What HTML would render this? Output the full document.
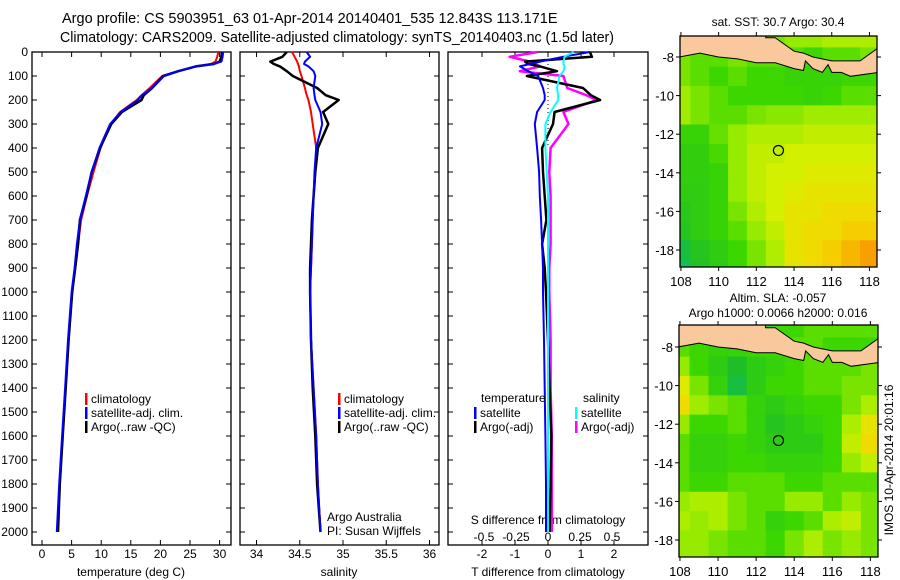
<!DOCTYPE html>
<html><head><meta charset="utf-8"><style>
html,body{margin:0;padding:0;background:#fff;width:900px;height:580px;overflow:hidden}
svg{font-family:"Liberation Sans",sans-serif;display:block}
</style></head><body>
<svg id="c" width="900" height="580" xmlns="http://www.w3.org/2000/svg">
<text x="62" y="23" font-size="14.5">Argo profile: CS 5903951_63 01-Apr-2014 20140401_535 12.843S 113.171E</text>
<text x="60" y="42" font-size="14.5" textLength="554" lengthAdjust="spacingAndGlyphs">Climatology: CARS2009. Satellite-adjusted climatology: synTS_20140403.nc (1.5d later)</text>
</svg>
<script>
// ---- profile data ----
const depths=[0,20,40,50,60,80,100,150,180,200,250,300,400,500,600,700,800,900,1000,1200,1400,1600,1800,2000];
const tempArgo=[30.4,30.3,30.0,29,26,23,20.5,18.6,17.2,16.8,13.5,11.7,9.8,8.4,7.5,6.4,6.1,5.6,5.1,4.5,4.0,3.5,3.0,2.7];
const tempClim=[29.8,29.6,29.3,28.5,26,23,20.3,18.2,16.8,16.0,13.2,11.6,9.9,8.7,7.6,6.6,6.1,5.6,5.1,4.5,4.0,3.5,3.0,2.6];
const tempSat=[30.6,30.5,30.3,29,26,23,20.6,18.6,16.9,16.2,13.3,11.5,9.7,8.4,7.4,6.4,5.9,5.5,5.0,4.4,3.9,3.4,2.9,2.5];
const salArgo=[34.35,34.3,34.16,34.2,34.27,34.35,34.42,34.7,34.8,34.95,34.77,34.83,34.71,34.68,34.66,34.64,34.63,34.62,34.62,34.63,34.65,34.68,34.7,34.74];
const salClim=[34.41,34.44,34.47,34.48,34.49,34.5,34.52,34.56,34.58,34.6,34.63,34.65,34.69,34.68,34.66,34.65,34.64,34.63,34.62,34.63,34.66,34.69,34.71,34.74];
const salSat=[34.58,34.62,34.56,34.55,34.6,34.66,34.68,34.66,34.67,34.68,34.74,34.76,34.69,34.67,34.66,34.65,34.64,34.63,34.62,34.63,34.66,34.69,34.71,34.74];
const dTArgo=[1.27,1.33,-0.7,-0.6,-0.24,0.27,-0.64,1.06,1.3,1.58,0.2,0.15,-0.18,-0.15,-0.1,-0.05,-0.18,-0.1,-0.06,0,0.05,0.1,0.08,0.05];
const dTSat=[1.27,0.45,-0.24,-0.55,-0.85,-0.6,-0.3,-0.15,-0.1,-0.1,-0.33,-0.4,-0.33,-0.27,-0.25,-0.21,-0.18,-0.15,-0.15,-0.12,-0.1,-0.08,-0.06,-0.06];
const dSArgo=[-0.08,-0.3,-0.14,-0.1,-0.06,-0.22,0.12,0.15,0.3,0.38,0.12,0.16,0.02,0.01,0.02,0.02,0.02,0.01,0.01,0.02,0.02,0.03,0.03,0.03];
const dSSat=[0.2,0.13,0.12,0.12,0.13,0.12,0.09,0.07,0.08,0.08,0.02,-0.02,-0.02,-0.01,0,0,0,0,0,0,0,0,0,0];
const depthTicks=[0,100,200,300,400,500,600,700,800,900,1000,1100,1200,1300,1400,1500,1600,1700,1800,1900,2000];
const tempTicks=[0,5,10,15,20,25,30];
const salTicks=[34,34.5,35,35.5,36];
const dTTicks=[-2,-1,0,1,2];
const dSTicks=[-0.5,-0.25,0,0.25,0.5];
const dSTickLabels=["-0.5","-0.25","0","0.25","0.5"];
// ---- map data (rows lat -7..-19, cols lon 108..118), normalised 0..1 ----
const mapLats=[-7,-8,-9,-10,-11,-12,-13,-14,-15,-16,-17,-18,-19];
const mapLons=[108,109,110,111,112,113,114,115,116,117,118];
const sstGrid=[
[0.55,0.55,0.55,0.55,0.55,0.55,0.6,0.6,0.65,0.65,0.65],
[0.55,0.5,0.5,0.55,0.5,0.5,0.5,0.45,0.5,0.5,0.55],
[0.55,0.5,0.45,0.5,0.45,0.45,0.42,0.42,0.42,0.45,0.45],
[0.62,0.55,0.5,0.45,0.45,0.45,0.45,0.42,0.45,0.5,0.5],
[0.62,0.55,0.5,0.5,0.55,0.58,0.58,0.62,0.62,0.62,0.62],
[0.42,0.42,0.52,0.6,0.66,0.66,0.66,0.7,0.7,0.7,0.7],
[0.38,0.38,0.47,0.6,0.7,0.7,0.74,0.74,0.74,0.74,0.74],
[0.38,0.38,0.42,0.6,0.7,0.74,0.74,0.78,0.78,0.78,0.78],
[0.36,0.36,0.42,0.6,0.7,0.74,0.78,0.82,0.82,0.82,0.82],
[0.32,0.36,0.42,0.55,0.66,0.74,0.82,0.82,0.86,0.86,0.86],
[0.3,0.36,0.42,0.5,0.6,0.7,0.82,0.86,0.86,0.9,0.9],
[0.2,0.3,0.36,0.45,0.55,0.66,0.82,0.86,0.9,0.95,1.0],
[0.15,0.28,0.35,0.45,0.55,0.66,0.82,0.86,0.9,0.95,1.0]];
const slaGrid=[
[0.45,0.45,0.45,0.45,0.45,0.45,0.45,0.5,0.5,0.5,0.5],
[0.5,0.45,0.4,0.4,0.45,0.45,0.5,0.5,0.45,0.45,0.45],
[0.6,0.45,0.35,0.25,0.35,0.4,0.45,0.5,0.5,0.5,0.55],
[0.78,0.55,0.4,0.2,0.35,0.45,0.45,0.5,0.5,0.55,0.55],
[0.86,0.62,0.55,0.5,0.4,0.35,0.4,0.45,0.45,0.55,0.65],
[0.6,0.45,0.45,0.5,0.4,0.3,0.35,0.4,0.45,0.65,0.82],
[0.5,0.4,0.4,0.45,0.4,0.35,0.35,0.35,0.45,0.7,0.86],
[0.5,0.4,0.4,0.45,0.45,0.4,0.4,0.4,0.45,0.6,0.7],
[0.5,0.45,0.45,0.5,0.5,0.5,0.45,0.45,0.5,0.5,0.5],
[0.6,0.65,0.65,0.55,0.5,0.5,0.6,0.6,0.5,0.6,0.55],
[0.65,0.6,0.65,0.55,0.5,0.4,0.45,0.5,0.65,0.7,0.55],
[0.6,0.6,0.55,0.5,0.5,0.45,0.55,0.65,0.55,0.6,0.55],
[0.6,0.6,0.55,0.5,0.5,0.45,0.55,0.65,0.55,0.6,0.55]];
const landLon=[107.9,107.9,109,110,111,112,113,114,114.5,114.6,115,115.5,115.8,116,116.5,117,118.5,118.5,117.5,116,115,114.5,114,113,112.5,112.5];
const landLat=[-6.8,-8.0,-7.8,-8.0,-8.1,-8.3,-8.3,-8.6,-8.7,-8.2,-8.6,-8.8,-8.4,-8.8,-8.8,-9.0,-8.8,-7.5,-8.2,-8.2,-8.0,-7.8,-7.7,-7.0,-7.0,-6.8];
const argoLon=113.171, argoLat=-12.843;

const NS="http://www.w3.org/2000/svg";
const svg=document.getElementById('c');
function mk(tag,attrs,parent){const e=document.createElementNS(NS,tag);for(const k in attrs)e.setAttribute(k,attrs[k]);(parent||svg).appendChild(e);return e;}
function txt(x,y,s,size,anchor,parent){const t=mk('text',{x:x,y:y,'font-size':size||12,'text-anchor':anchor||'start'},parent);t.textContent=s;return t;}

const TOP=52,BOT=545;
const yD=d=>TOP+d*0.24;
const panels=[{x0:32,x1:231},{x0:240,x1:439},{x0:448,x1:648}];
const xT=v=>42+v*5.92;
const xS=v=>256.5+(v-34)*86.5;
const xDT=v=>548+v*33;
const xDS=v=>548+v*128;

function frame(p,name){
  const r=mk('rect',{x:p.x0,y:TOP,width:p.x1-p.x0,height:BOT-TOP,fill:'none',stroke:'#000','stroke-width':1.3});
  
  
  depthTicks.forEach(d=>{
    mk('line',{x1:p.x0,x2:p.x0+5,y1:yD(d),y2:yD(d),stroke:'#000'});
    mk('line',{x1:p.x1-5,x2:p.x1,y1:yD(d),y2:yD(d),stroke:'#000'});
  });
}
frame(panels[0],'temperature-panel');
frame(panels[1],'salinity-panel');
frame(panels[2],'difference-panel');
depthTicks.forEach(d=>{
  const t=txt(28,yD(d)+4,String(d),12,'end');
  
  
});
function xticks(ticks,fx,labels,y,name){
  ticks.forEach((v,i)=>{
    const x=fx(v);
    mk('line',{x1:x,x2:x,y1:BOT-5,y2:BOT,stroke:'#000'});
    mk('line',{x1:x,x2:x,y1:TOP,y2:TOP+5,stroke:'#000'});
    const t=txt(x,y,labels?labels[i]:String(v),12,'middle');
    
    
  });
}
xticks(tempTicks,xT,null,558,'temperature-tick-label');
xticks(salTicks,xS,null,558,'salinity-tick-label');
xticks(dTTicks,xDT,null,558,'t-diff-tick-label');
dSTicks.forEach((v,i)=>{
  const t=txt(xDS(v),541,dSTickLabels[i],12,'middle');
  
  
});
let t;
t=txt(131,576,'temperature (deg C)',12,'middle');
t=txt(339,576,'salinity',12,'middle');
t=txt(548,576,'T difference from climatology',12,'middle');
t=txt(548,524,'S difference from climatology',12,'middle');

mk('line',{x1:548,x2:548,y1:TOP,y2:yD(400),stroke:'#000','stroke-dasharray':'1,3'});

function line(vals,fx,color,w,name){
  const pts=vals.map((v,i)=>fx(v).toFixed(1)+','+yD(depths[i]).toFixed(1)).join(' ');
  const p=mk('polyline',{points:pts,fill:'none',stroke:color,'stroke-width':w,'stroke-linejoin':'round'});
  
  
}
line(tempClim,xT,'#ff0000',2,'temperature-climatology-line');
line(tempArgo,xT,'#000',2.5,'temperature-argo-line');
line(tempSat,xT,'#0000ff',2,'temperature-satellite-line');
line(salClim,xS,'#ff0000',2,'salinity-climatology-line');
line(salArgo,xS,'#000',2.5,'salinity-argo-line');
line(salSat,xS,'#0000ff',2,'salinity-satellite-line');
line(dSArgo,xDS,'#ff00ff',2.5,'s-diff-argo-line');
line(dTArgo,xDT,'#000',2.5,'t-diff-argo-line');
line(dTSat,xDT,'#0000ff',2,'t-diff-satellite-line');
line(dSSat,xDS,'#00ffff',2,'s-diff-satellite-line');

function legend(x,y,color,label,name){
  mk('rect',{x:x,y:y-10,width:2.5,height:12,fill:color});
  const t=txt(x+6,y,label,12);
  
  
}
[[85,'temperature-legend'],[338,'salinity-legend']].forEach(([x,n])=>{
  legend(x,403,'#ff0000','climatology',n+'-climatology');
  legend(x,417,'#0000ff','satellite-adj. clim.',n+'-satellite');
  legend(x,431,'#000','Argo(..raw -QC)',n+'-argo');
});
t=txt(481,402,'temperature',12);
t=txt(583,402,'salinity',12);
legend(474,417,'#0000ff','satellite','legend-t-satellite');
legend(474,431,'#000','Argo(-adj)','legend-t-argo');
legend(575,417,'#00ffff','satellite','legend-s-satellite');
legend(575,431,'#ff00ff','Argo(-adj)','legend-s-argo');
t=txt(327,521,'Argo Australia',12);
t=txt(327,535,'PI: Susan Wijffels',12);

// ---- maps ----
function cmap(v){
  const stops=[[0,[0,190,160]],[0.25,[30,190,40]],[0.45,[60,215,0]],[0.6,[150,235,0]],[0.75,[215,240,0]],[0.88,[245,215,0]],[1,[248,160,0]]];
  for(let i=1;i<stops.length;i++){if(v<=stops[i][0]){const a=stops[i-1],b=stops[i],f=(v-a[0])/(b[0]-a[0]);return 'rgb('+a[1].map((c,j)=>Math.round(c+f*(b[1][j]-c))).join(',')+')';}}
  return 'rgb(248,160,0)';
}
function drawMap(box,grid,name,titles){
  const lonX=lon=>box.x0+(lon-107.95)*(box.x1-box.x0)/(118.4-107.95);
  const latY=lat=>box.yM8+(-8-lat)*box.sy;
  const g=mk('g',{});
  
  
  const cp=mk('clipPath',{id:'cp'+name},g);
  mk('rect',{x:box.x0,y:box.y0,width:box.x1-box.x0,height:box.y1-box.y0},cp);
  const cg=mk('g',{'clip-path':'url(#cp'+name+')'},g);
  grid.forEach((row,ri)=>row.forEach((v,ci)=>{
    const x0=lonX(mapLons[ci]-0.5),y0=latY(mapLats[ri]+0.5);
    const c=mk('rect',{x:x0.toFixed(1),y:y0.toFixed(1),width:(lonX(1)-lonX(0)+0.6).toFixed(1),height:(box.sy+0.6).toFixed(1),fill:cmap(v)},cg);
    
    
  }));
  const land=mk('polygon',{points:landLon.map((lo,i)=>lonX(lo).toFixed(1)+','+latY(landLat[i]).toFixed(1)).join(' '),fill:'#f9c89c',stroke:'#000','stroke-width':1},cg);
  
  
  mk('rect',{x:box.x0,y:box.y0,width:box.x1-box.x0,height:box.y1-box.y0,fill:'none',stroke:'#000','stroke-width':1.3},g);
  const c=mk('circle',{cx:lonX(argoLon),cy:latY(argoLat),r:5,fill:'none',stroke:'#000','stroke-width':1.2},g);
  
  
  [108,110,112,114,116,118].forEach(lo=>{
    const x=lonX(lo);
    mk('line',{x1:x,x2:x,y1:box.y0-4,y2:box.y0,stroke:'#000'},g);
    mk('line',{x1:x,x2:x,y1:box.y1,y2:box.y1+4,stroke:'#000'},g);
    const tt=txt(x,box.y1+19,String(lo),13,'middle',g);
    
    
  });
  [-8,-10,-12,-14,-16,-18].forEach(la=>{
    const y=latY(la);
    mk('line',{x1:box.x0-4,x2:box.x0,y1:y,y2:y,stroke:'#000'},g);
    mk('line',{x1:box.x1,x2:box.x1+4,y1:y,y2:y,stroke:'#000'},g);
    const tt=txt(box.x0-6,y+5,String(la),13,'end',g);
    
    
  });
  titles.forEach(([s,y])=>{const tt=txt(778,y,s,12,'middle',g);});
}
drawMap({x0:680,x1:877,y0:36,y1:267,yM8:57,sy:19.3},sstGrid,'sst-map',[['sat. SST: 30.7 Argo: 30.4',26]]);
drawMap({x0:679,x1:878,y0:325,y1:557,yM8:347,sy:19.3},slaGrid,'sla-map',[['Altim. SLA: -0.057',302],['Argo h1000: 0.0066 h2000: 0.016',317]]);
t=txt(0,0,'IMOS 10-Apr-2014 20:01:16',12,'middle');
t.setAttribute('transform','translate(893,460) rotate(-90)');


</script>
</body></html>
